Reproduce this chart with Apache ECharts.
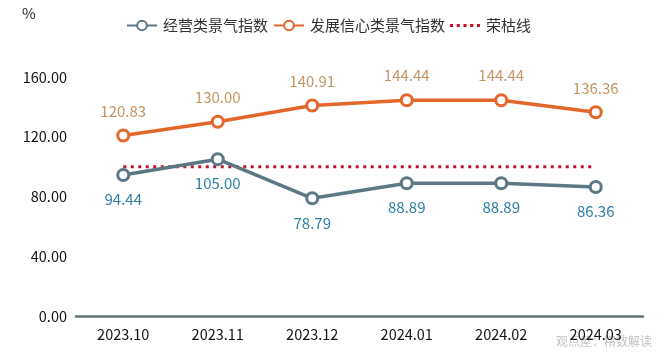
<!DOCTYPE html>
<html>
<head>
<meta charset="utf-8">
<script src="https://cdn.jsdelivr.net/npm/echarts@6/dist/echarts.min.js"></script>
<style>
  html, body { margin: 0; padding: 0; background: #fff; }
  #main { width: 660px; height: 354px; }
</style>
</head>
<body>
<div id="main"></div>
<script>
let months = ["2023.10", "2023.11", "2023.12", "2024.01", "2024.02", "2024.03"];
let bizIndex = [94.44, 105.00, 78.79, 88.89, 88.89, 86.36];
let confIndex = [120.83, 130.00, 140.91, 144.44, 144.44, 136.36];
let boomLine = [100, 100, 100, 100, 100, 100];
let yTicks = { min: 0, max: 160, interval: 40 };

let font = '"Noto Sans CJK SC", "Noto Sans", sans-serif';
let colorList = ["#5C7884", "#E3672B", "#C0142B"];
// five little dots for the 荣枯线 legend icon
let dotIcon = "path://M0,0h3v3h-3z M6.5,0h3v3h-3z M13,0h3v3h-3z M19.5,0h3v3h-3z M26,0h3v3h-3z";

let myChart = echarts.init(document.getElementById("main"));

const option = {
    textStyle: { fontFamily: font },
    legend: {
        top: 13,
        left: 121,
        itemGap: 5,
        itemWidth: 30,
        itemHeight: 12,
        textStyle: { fontSize: 15, color: "#333", fontFamily: font, padding: [0, 0, 0, 1] },
        data: [
            { name: "经营类景气指数" },
            { name: "发展信心类景气指数" },
            { name: "荣枯线", icon: dotIcon, itemStyle: { color: colorList[2] } }
        ]
    },
    grid: {
        left: 76,
        right: 17,
        top: 77,
        bottom: 38
    },
    xAxis: {
        type: "category",
        data: months,
        axisLine: {
            lineStyle: { color: "#5E7676", width: 2.5 }
        },
        axisTick: { show: false },
        axisLabel: {
            color: "#111",
            fontSize: 14.5,
            margin: 11,
            fontFamily: font
        }
    },
    yAxis: {
        type: "value",
        min: yTicks.min,
        max: yTicks.max,
        interval: yTicks.interval,
        axisLine: { show: false },
        axisTick: { show: false },
        splitLine: { show: false },
        axisLabel: {
            color: "#111",
            fontSize: 14.5,
            margin: 9,
            fontFamily: font,
            formatter: v => v.toFixed(2)
        }
    },
    series: [{
        name: "经营类景气指数",
        type: "line",
        data: bizIndex,
        symbol: "circle",
        symbolSize: 11,
        z: 3,
        lineStyle: { color: colorList[0], width: 3.5 },
        itemStyle: { color: "#fff", borderColor: colorList[0], borderWidth: 3 },
        label: {
            show: true,
            position: "bottom",
            distance: 10,
            color: "#2F7FA3",
            fontSize: 15,
            formatter: p => p.value.toFixed(2)
        }
    }, {
        name: "发展信心类景气指数",
        type: "line",
        data: confIndex,
        symbol: "circle",
        symbolSize: 11,
        z: 3,
        lineStyle: { color: colorList[1], width: 3.5 },
        itemStyle: { color: "#fff", borderColor: colorList[1], borderWidth: 3 },
        label: {
            show: true,
            position: "top",
            distance: 10,
            color: "#C49563",
            fontSize: 15,
            formatter: p => p.value.toFixed(2)
        }
    }, {
        name: "荣枯线",
        type: "line",
        data: boomLine,
        symbol: "none",
        z: 2,
        lineStyle: { color: colorList[2], width: 3, type: [3, 4.5] },
        itemStyle: { color: colorList[2] }
    }],
    graphic: [{
        type: "text",
        left: 22,
        top: 6,
        style: { text: "%", fill: "#222", fontSize: 15, fontFamily: font }
    }, {
        type: "text",
        right: 8,
        bottom: 7,
        style: {
            text: "观点屋：精数解读",
            fill: "rgba(120,120,120,0.45)",
            fontSize: 12,
            fontFamily: font
        }
    }]
};
myChart.setOption(option, true);
window.addEventListener("resize", function () {
    myChart.resize();
});
</script>
</body>
</html>
